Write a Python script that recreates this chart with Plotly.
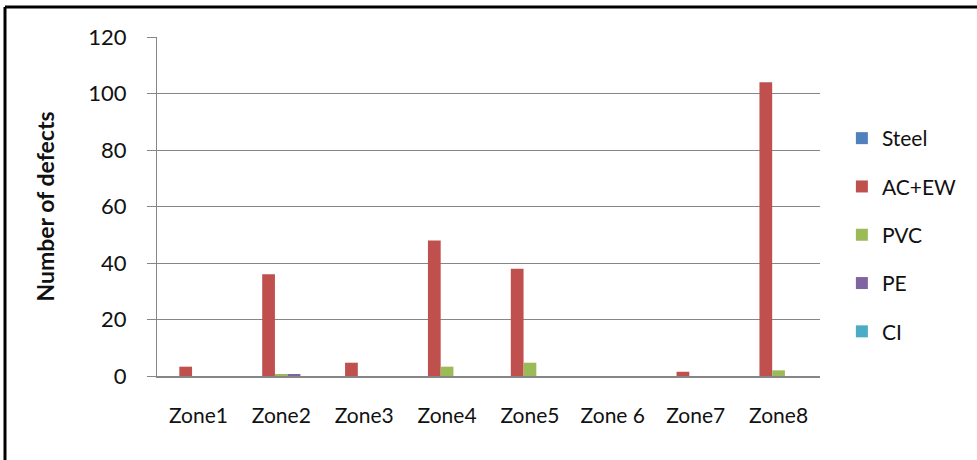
import plotly.graph_objects as go

zones = ["Zone1", "Zone2", "Zone3", "Zone4", "Zone5", "Zone 6", "Zone7", "Zone8"]
steel = [0, 0, 0, 0, 0, 0, 0, 0]
ac_ew = [3.3, 36, 4.7, 48, 38, 0, 1.5, 104]
pvc = [0, 0.5, 0, 3.3, 4.7, 0, 0, 2]
pe = [0, 0.5, 0, 0, 0, 0, 0, 0]
ci = [0, 0, 0, 0, 0, 0, 0, 0]

series = [
    ("Steel", steel, "#4F81BD"),
    ("AC+EW", ac_ew, "#C0504D"),
    ("PVC", pvc, "#9BBB59"),
    ("PE", pe, "#8064A2"),
    ("CI", ci, "#4BACC6"),
]

font = "Lato, 'Open Sans', sans-serif"
txt = "#111111"

fig = go.Figure()
for i, (name, vals, color) in enumerate(series):
    fig.add_trace(go.Bar(
        x=zones, y=vals, name=name, marker_color=color,
        marker_line_width=0, legendgroup=f"g{i}",
    ))

W, H = 977, 460
L, R, T, B = 157, 157, 37, 84
pw, ph = W - L - R, H - T - B

fig.update_layout(
    width=W, height=H,
    margin=dict(l=L, r=R, t=T, b=B, autoexpand=False),
    paper_bgcolor="white", plot_bgcolor="white",
    barmode="group", bargap=0.2308, bargroupgap=0,
    font=dict(family=font, size=21, color=txt),
    showlegend=True,
    legend=dict(
        x=1.033, y=(H - B - 118) / ph, xanchor="left", yanchor="top",
        font=dict(size=21, color=txt),
        tracegroupgap=18, itemwidth=30,
        bgcolor="rgba(0,0,0,0)",
    ),
    xaxis=dict(
        showline=True, linecolor="#868686", linewidth=1.5,
        showgrid=False, ticks="", ticklabelstandoff=20,
        tickfont=dict(size=21, color=txt),
    ),
    yaxis=dict(
        range=[0, 120], dtick=20, showgrid=True, gridcolor="#868686",
        gridwidth=1, showline=True, linecolor="#868686", linewidth=1,
        ticks="outside", ticklen=9, tickcolor="#868686",
        ticklabelstandoff=16, zeroline=False,
        tickfont=dict(size=22, color=txt),
        title=dict(text="<b>Number of defects</b>", font=dict(size=23, color=txt), standoff=27),
    ),
    shapes=[
        dict(type="line", xref="paper", yref="paper",
             x0=-(L - 5) / pw, x1=-(L - 5) / pw, y0=-B / ph, y1=(ph + T - 7) / ph,
             line=dict(color="black", width=3)),
        dict(type="line", xref="paper", yref="paper",
             x0=-(L - 5) / pw, x1=(pw + R) / pw, y0=(ph + T - 7) / ph, y1=(ph + T - 7) / ph,
             line=dict(color="black", width=3)),
    ],
)

fig.write_html("out.html")
